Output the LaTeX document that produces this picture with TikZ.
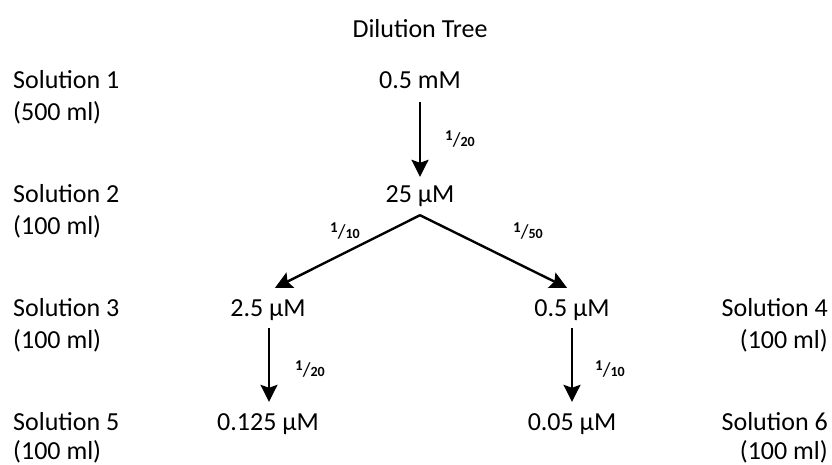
\documentclass[tikz,border=0pt]{standalone}
\usepackage{fontspec}
\setmainfont{Carlito}
\usetikzlibrary{arrows.meta}
\newcommand{\dfrac}[2]{\raisebox{6pt}{\fontsize{15}{15}\selectfont\bfseries #1}{\fontsize{20}{20}\selectfont /}{\fontsize{14}{14}\selectfont\bfseries #2}}
\begin{document}
\begin{tikzpicture}[x=1pt,y=-1pt,
  txt/.style={inner sep=0pt,font=\fontsize{26}{30}\selectfont},
  val/.style={txt,anchor=base,text height=16pt,text depth=5pt},
  lbl/.style={txt,anchor=base west},
  rlbl/.style={txt,anchor=base east},
  frc/.style={inner sep=0pt,anchor=base west},
  arr/.style={line width=2.4pt,-{Stealth[length=17pt,width=17pt,inset=3pt]}}]
\useasboundingbox (0,0) rectangle (832,464);
% title
\node[txt,anchor=base] (title) at (420,37) {Dilution Tree};
% left labels
\node[lbl] (s1) at (13,88) {Solution 1};
\node[lbl] (s1v) at (13,120) {(500 ml)};
\node[lbl] (s2) at (13,202) {Solution 2};
\node[lbl] (s2v) at (13,234) {(100 ml)};
\node[lbl] (s3) at (13,316) {Solution 3};
\node[lbl] (s3v) at (13,348) {(100 ml)};
\node[lbl] (s5) at (13,430) {Solution 5};
\node[lbl] (s5v) at (13,459) {(100 ml)};
% right labels
\node[rlbl] (s4) at (828,316) {Solution 4};
\node[rlbl] (s4v) at (828,348) {(100 ml)};
\node[rlbl] (s6) at (828,430) {Solution 6};
\node[rlbl] (s6v) at (828,459) {(100 ml)};
% values
\node[val] (m1) at (420,88) {0.5 mM};
\node[val] (m2) at (420,202) {25 µM};
\node[val] (m3) at (268,316) {2.5 µM};
\node[val] (m4) at (572,316) {0.5 µM};
\node[val] (m5) at (268,430) {0.125 µM};
\node[val] (m6) at (572,430) {0.05 µM};
% arrows
\draw[arr,shorten <=9pt,shorten >=9pt] (m1.south) -- (m2.north);
\draw[arr] ([yshift=-8pt]m2.south) -- ([xshift=7pt,yshift=12pt]m3.north);
\draw[arr] ([yshift=-8pt]m2.south) -- ([xshift=-5pt,yshift=12pt]m4.north);
\draw[arr,shorten <=7pt,shorten >=12pt] ([xshift=1pt]m3.south) -- ([xshift=1pt]m5.north);
\draw[arr,shorten <=7pt,shorten >=12pt] (m4.south) -- (m6.north);
% dilution factors
\node[frc] (f1) at (445,146) {\dfrac{1}{20}};
\node[frc] (f2) at (330,238) {\dfrac{1}{10}};
\node[frc] (f3) at (513,238) {\dfrac{1}{50}};
\node[frc] (f4) at (295,376) {\dfrac{1}{20}};
\node[frc] (f5) at (595,376) {\dfrac{1}{10}};
\end{tikzpicture}
\end{document}
